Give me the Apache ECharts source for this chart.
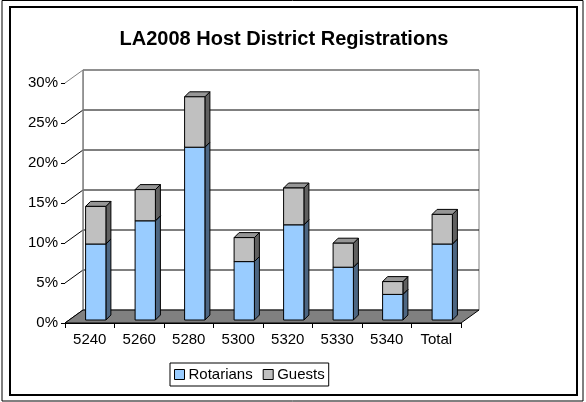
<!DOCTYPE html>
<html>
<head>
<meta charset="utf-8">
<script src="https://cdn.jsdelivr.net/npm/echarts@6/dist/echarts.min.js"></script>
<style>
html, body { margin: 0; padding: 0; background: #fff; }
#main { width: 586px; height: 402px; }
</style>
</head>
<body>
<div id="main"></div>
<script>
// data
var districts = ['5240', '5260', '5280', '5300', '5320', '5330', '5340', 'Total'];
var rotarians = [0.095, 0.124, 0.216, 0.073, 0.119, 0.066, 0.032, 0.095];
var guests = [0.047, 0.039, 0.063, 0.030, 0.046, 0.030, 0.016, 0.037];
var yTicks = [0, 0.05, 0.10, 0.15, 0.20, 0.25, 0.30];

// 3d look
var DX = 18, DY = -13;     // back wall offset
var BX = 6, BY = -3;       // bar front face offset
var DEPTH = 5;             // bar depth

var myChart = echarts.init(document.getElementById('main'));

// walls, floor and gridlines
function wallItem(params, api) {
	var cs = params.coordSys;
	var x0 = cs.x, x1 = cs.x + cs.width;
	var y0 = api.coord([0, 0])[1];
	var yTop = api.coord([0, yTicks[yTicks.length - 1]])[1];
	var kids = [];
	// back wall
	kids.push({ type: 'rect', shape: { x: x0 + DX, y: yTop + DY, width: x1 - x0, height: y0 - yTop },
		style: { fill: '#fff', stroke: '#808080', lineWidth: 1 } });
	// left wall
	kids.push({ type: 'polygon', shape: { points: [[x0, y0], [x0 + DX, y0 + DY], [x0 + DX, yTop + DY], [x0, yTop]] },
		style: { fill: '#fff', stroke: null } });
	for (var k = 0; k < yTicks.length; k++) {
		var y = api.coord([0, yTicks[k]])[1];
		var last = k == yTicks.length - 1;
		if (k > 0) {
			kids.push({ type: 'line', shape: { x1: x0 + DX, y1: y + DY, x2: x1 + DX, y2: y + DY },
				style: { stroke: last ? '#808080' : '#000', lineWidth: last ? 1.5 : 1 } });
		}
		kids.push({ type: 'line', shape: { x1: x0, y1: y, x2: x0 + DX, y2: y + DY },
			style: { stroke: last ? '#808080' : '#000', lineWidth: 1 } });
	}
	kids.push({ type: 'line', shape: { x1: x0 + DX, y1: yTop + DY, x2: x0 + DX, y2: y0 + DY },
		style: { stroke: '#808080', lineWidth: 1.5 } });
	// floor
	kids.push({ type: 'polygon', shape: { points: [[x0, y0], [x1, y0], [x1 + DX, y0 + DY], [x0 + DX, y0 + DY]] },
		style: { fill: '#808080', stroke: '#000', lineWidth: 1 } });
	return { type: 'group', children: kids };
}

// one box of the stacked bar
function barItem(front, side, top) {
	return function (params, api) {
		var i = api.value(0);
		var c = api.coord([i, 0]);
		var w = api.size([1, 0])[0] * 0.41;
		var x0 = c[0] - w / 2 + BX, x1 = x0 + w;
		var yb = api.coord([i, api.value(1)])[1] + BY;
		var yt = api.coord([i, api.value(2)])[1] + BY;
		var line = { stroke: '#000', lineWidth: 1 };
		return {
			type: 'group',
			children: [
				{ type: 'polygon', shape: { points: [[x1, yb], [x1 + DEPTH, yb - DEPTH], [x1 + DEPTH, yt - DEPTH], [x1, yt]] },
					style: Object.assign({ fill: side }, line) },
				{ type: 'polygon', shape: { points: [[x0, yt], [x1, yt], [x1 + DEPTH, yt - DEPTH], [x0 + DEPTH, yt - DEPTH]] },
					style: Object.assign({ fill: top }, line) },
				{ type: 'rect', shape: { x: x0, y: yt, width: w, height: yb - yt },
					style: Object.assign({ fill: front }, line) }
			]
		};
	};
}

var rotData = districts.map(function (d, i) { return [i, 0, rotarians[i]]; });
var guestData = districts.map(function (d, i) { return [i, rotarians[i], rotarians[i] + guests[i]]; });

option = {
	animation: false,
	textStyle: { fontFamily: 'Liberation Sans, Arial, sans-serif', color: '#000' },
	title: {
		text: 'LA2008 Host District Registrations',
		left: 284,
		top: 27,
		padding: 0,
		textAlign: 'center',
		textStyle: { fontSize: 20, fontWeight: 'bold', color: '#000', lineHeight: 24 }
	},
	legend: {
		data: ['Rotarians', 'Guests'],
		left: 170,
		top: 363,
		padding: [4, 4],
		itemGap: 10,
		itemWidth: 10,
		itemHeight: 10,
		icon: 'rect',
		borderColor: '#000',
		borderWidth: 1,
		itemStyle: { borderColor: '#000', borderWidth: 1 },
		textStyle: { fontSize: 15, color: '#000', padding: [0, 0, 0, -1] }
	},
	grid: { left: 65, right: 125, top: 83, bottom: 79 },
	xAxis: {
		type: 'category',
		data: districts,
		axisLine: { lineStyle: { color: '#000', width: 1 } },
		axisTick: { show: true, length: 5, lineStyle: { color: '#000' } },
		axisLabel: { fontSize: 15, color: '#000', margin: 9 },
		splitLine: { show: false }
	},
	yAxis: {
		type: 'value',
		min: 0,
		max: 0.3,
		interval: 0.05,
		axisLine: { show: true, lineStyle: { color: '#000', width: 1 } },
		axisTick: { show: true, length: 4, lineStyle: { color: '#000' } },
		axisLabel: {
			fontSize: 15, color: '#000', margin: 7,
			formatter: function (v) { return Math.round(v * 100) + '%'; }
		},
		splitLine: { show: false }
	},
	series: [
		{
			name: 'walls',
			type: 'custom',
			silent: true,
			z: 1,
			data: [[0, 0]],
			renderItem: wallItem
		},
		{
			name: 'Rotarians',
			type: 'custom',
			z: 3,
			itemStyle: { color: '#99CCFF' },
			data: rotData,
			renderItem: barItem('#99CCFF', '#4D6682', '#7AA3CC')
		},
		{
			name: 'Guests',
			type: 'custom',
			z: 4,
			itemStyle: { color: '#C0C0C0' },
			data: guestData,
			renderItem: barItem('#C0C0C0', '#606060', '#969696')
		}
	],
	graphic: [
		{ type: 'rect', shape: { x: 2, y: 0.5, width: 581, height: 400.5 }, style: { fill: null, stroke: '#000', lineWidth: 1 } },
		{ type: 'rect', shape: { x: 10, y: 7, width: 567, height: 388 }, style: { fill: null, stroke: '#000', lineWidth: 2 } }
	]
};

myChart.setOption(option);
</script>
</body>
</html>
